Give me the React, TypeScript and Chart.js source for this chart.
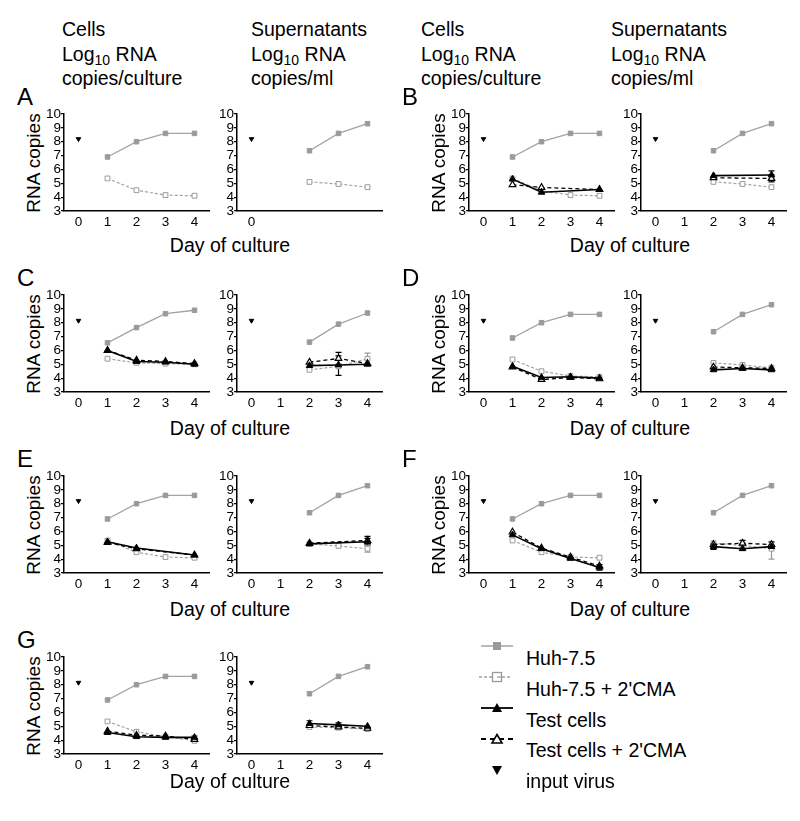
import React, { useEffect, useRef } from 'react';
import { Chart, registerables } from 'chart.js';

Chart.register(...registerables);

const FONT = '"Liberation Sans", Arial, Helvetica, sans-serif';

// ---------- data ----------
const panels = ['A', 'B', 'C', 'D', 'E', 'F', 'G'];
const cellDays = [1, 2, 3, 4];
const supDays = [2, 3, 4];
const inputDays = [0];
const xTicks = [0, 1, 2, 3, 4];
const xTickLabels = ['0', '1', '2', '3', '4'];
const xTickLabelsZeroOnly = ['0', '', '', '', ''];
const yTicks = [3, 4, 5, 6, 7, 8, 9, 10];

const legendLabels = ['Huh-7.5', "Huh-7.5 + 2'CMA", 'Test cells', "Test cells + 2'CMA", 'input virus'];

// input virus (day 0)
const cellsInput = [8.2, 8.2, 8.15, 8.15, 8.2, 8.2, 8.15];
const supInput = [8.2, 8.2, 8.15, 8.15, 8.2, 8.2, 8.15];

// Cells, days 1-4
const cellsHuh = [
  [6.9, 8.0, 8.6, 8.6],
  [6.9, 8.0, 8.6, 8.6],
  [6.55, 7.65, 8.65, 8.9],
  [6.9, 8.0, 8.6, 8.6],
  [6.9, 8.0, 8.6, 8.6],
  [6.9, 8.0, 8.6, 8.6],
  [6.9, 8.0, 8.6, 8.6],
];
const cellsHuhCMA = [
  [5.35, 4.5, 4.15, 4.1],
  [5.35, 4.45, 4.15, 4.1],
  [5.4, 5.1, 5.05, 5.0],
  [5.35, 4.5, 4.15, 4.1],
  [5.35, 4.5, 4.15, 4.1],
  [5.35, 4.5, 4.15, 4.1],
  [5.35, 4.6, 4.25, 3.95],
];
const cellsTest = [
  null,
  [5.3, 4.35, null, 4.55],
  [6.0, 5.2, 5.15, 5.0],
  [4.85, 4.05, 4.1, 4.0],
  [5.25, 4.8, null, 4.3],
  [5.75, 4.75, 4.05, 3.4],
  [4.55, 4.25, 4.2, 4.2],
];
const cellsTestCMA = [
  null,
  [4.9, 4.7, null, 4.55],
  [6.0, 5.3, 5.2, 5.05],
  [4.8, 3.9, 4.05, 3.95],
  [5.2, 4.75, null, 4.3],
  [5.95, 4.8, 4.15, 3.5],
  [4.65, 4.35, 4.3, 4.05],
];
const cellsTestErr = [
  null,
  null,
  null,
  null,
  null,
  [null, null, null, [3.2, 3.6]],
  [null, null, null, [4.0, 4.3]],
];

// Supernatants, days 2-4
const supHuh = [
  [7.35, 8.6, 9.3],
  [7.35, 8.6, 9.3],
  [6.6, 7.9, 8.7],
  [7.35, 8.6, 9.3],
  [7.35, 8.6, 9.3],
  [7.35, 8.6, 9.3],
  [7.35, 8.6, 9.3],
];
const supHuhCMA = [
  [5.1, 4.95, 4.72],
  [5.1, 4.95, 4.72],
  [4.6, 4.85, 5.4],
  [5.1, 4.95, 4.75],
  [5.1, 4.95, 4.75],
  [5.15, 5.0, 4.75],
  [4.95, 4.9, 4.8],
];
const supHuhCMAErr = [
  null,
  null,
  [null, null, [5.0, 5.8]],
  null,
  [null, null, [4.5, 5.0]],
  [null, null, [4.0, 5.0]],
  null,
];
const supTest = [
  null,
  [5.55, null, 5.6],
  [4.9, 4.95, 5.0],
  [4.6, 4.7, 4.6],
  [5.1, null, 5.25],
  [4.9, 4.75, 4.9],
  [5.2, 5.1, 5.0],
];
const supTestErr = [
  null,
  [null, null, [5.3, 5.9]],
  [null, [4.2, 5.6], null],
  [null, [4.6, 4.8], null],
  [null, null, [5.0, 5.5]],
  [[4.7, 5.1], null, null],
  [[5.0, 5.4], [4.9, 5.25], null],
];
const supTestCMA = [
  null,
  [5.4, null, 5.35],
  [5.15, 5.42, 5.05],
  [4.8, 4.75, 4.7],
  [5.15, null, 5.35],
  [5.05, 5.15, 5.05],
  [5.05, 4.95, 4.85],
];
const supTestCMAErr = [
  null,
  [null, null, [5.1, 5.6]],
  [null, [5.0, 5.86], null],
  null,
  [null, null, [5.1, 5.65]],
  [null, [4.95, 5.35], [4.8, 5.25]],
  null,
];

// ---------- layout constants ----------
const W = 145;
const H = 97;
const YW = 30;
const PT = 10;
const PR = 6;
const XH = 22;
const cellsLeft = [64, 469];
const supLeft = [237, 641];
const rowTop = [114, 295, 476, 657];
const dayTitleY = [245, 428, 609, 781];
const headerLeft = [[62, 251], [421, 611]];

const GRAY_LINE = '#a3a3a3';
const GRAY_FILL = '#9a9a9a';

function pts(days: number[], vals: (number | null)[] | null) {
  if (!vals) return [];
  return days.map((d, i) => ({ x: d, y: vals[i] }));
}

function makeDatasets(
  days: number[],
  huh: (number | null)[],
  huhCMA: (number | null)[],
  test: (number | null)[] | null,
  testCMA: (number | null)[] | null,
  input: number,
  huhCMAErr: any,
  testErr: any,
  testCMAErr: any
) {
  const ds: any[] = [];
  if (test) {
    ds.push({
      data: pts(days, test),
      borderColor: '#000',
      borderWidth: 1.6,
      pointStyle: 'triangle',
      pointRadius: 3.8,
      pointBackgroundColor: '#000',
      pointBorderColor: '#000',
      pointBorderWidth: 1,
      errors: testErr,
      spanGaps: true,
    });
  }
  if (testCMA) {
    ds.push({
      data: pts(days, testCMA),
      borderColor: '#000',
      borderWidth: 1.3,
      borderDash: [4, 3],
      pointStyle: 'triangle',
      pointRadius: 3.8,
      pointBackgroundColor: '#fff',
      pointBorderColor: '#000',
      pointBorderWidth: 1.2,
      errors: testCMAErr,
      spanGaps: true,
    });
  }
  ds.push({
    data: pts(days, huh),
    borderColor: GRAY_LINE,
    borderWidth: 1.3,
    pointStyle: 'rect',
    pointRadius: 3.2,
    pointBackgroundColor: GRAY_FILL,
    pointBorderColor: GRAY_FILL,
    pointBorderWidth: 1,
    spanGaps: true,
  });
  ds.push({
    data: pts(days, huhCMA),
    borderColor: GRAY_LINE,
    borderWidth: 1.2,
    borderDash: [3, 2],
    pointStyle: 'rect',
    pointRadius: 3.4,
    pointBackgroundColor: '#fff',
    pointBorderColor: GRAY_FILL,
    pointBorderWidth: 1,
    errors: huhCMAErr,
    spanGaps: true,
  });
  ds.push({
    data: pts(inputDays, [input]),
    showLine: false,
    borderColor: '#000',
    pointStyle: 'triangle',
    pointRotation: 180,
    pointRadius: 2.6,
    pointBackgroundColor: '#000',
    pointBorderColor: '#000',
    pointBorderWidth: 1,
  });
  return ds;
}

const errorBarPlugin = {
  id: 'errorBars',
  beforeDatasetsDraw(chart: any) {
    const { ctx, scales } = chart;
    const x = scales.x;
    const y = scales.y;
    chart.data.datasets.forEach((ds: any) => {
      const errs = ds.errors;
      if (!errs) return;
      ds.data.forEach((p: any, j: number) => {
        const e = errs[j];
        if (!e || p.y == null) return;
        const px = x.getPixelForValue(p.x);
        const lo = y.getPixelForValue(e[0]);
        const hi = y.getPixelForValue(e[1]);
        ctx.save();
        ctx.strokeStyle = ds.pointBorderColor || ds.borderColor;
        ctx.lineWidth = 1.2;
        ctx.beginPath();
        ctx.moveTo(px, lo);
        ctx.lineTo(px, hi);
        ctx.moveTo(px - 3, lo);
        ctx.lineTo(px + 3, lo);
        ctx.moveTo(px - 3, hi);
        ctx.lineTo(px + 3, hi);
        ctx.stroke();
        ctx.restore();
      });
    });
  },
};

function MiniChart({ left, top, datasets, labels }: { left: number; top: number; datasets: any[]; labels: string[] }) {
  const ref = useRef<HTMLCanvasElement | null>(null);
  useEffect(() => {
    if (!ref.current) return;
    const font = { family: FONT, size: 13.5 };
    const chart = new Chart(ref.current, {
      type: 'line',
      data: { datasets },
      plugins: [errorBarPlugin],
      options: {
        animation: false,
        responsive: false,
        maintainAspectRatio: false,
        layout: { padding: { top: PT, right: PR, left: 0, bottom: 0 } },
        plugins: { legend: { display: false }, tooltip: { enabled: false } },
        elements: { line: { tension: 0 } },
        scales: {
          x: {
            type: 'linear',
            min: -0.5,
            max: 4.5,
            afterBuildTicks: (a: any) => {
              a.ticks = xTicks.map((v) => ({ value: v }));
            },
            afterFit: (s: any) => {
              s.height = XH;
            },
            grid: { display: true, drawOnChartArea: false, drawTicks: false, color: '#000' },
            border: { display: true, color: '#000', width: 1.5 },
            ticks: {
              padding: 3,
              color: '#000',
              font,
              maxRotation: 0,
              autoSkip: false,
              callback: (v: any) => {
                const i = xTicks.indexOf(Number(v));
                return i >= 0 ? labels[i] : '';
              },
            },
          },
          y: {
            type: 'linear',
            min: 3,
            max: 10,
            afterBuildTicks: (a: any) => {
              a.ticks = yTicks.map((v) => ({ value: v }));
            },
            afterFit: (s: any) => {
              s.width = YW;
            },
            grid: { display: true, drawOnChartArea: false, drawTicks: true, tickLength: 3, color: '#000', lineWidth: 1.2 },
            border: { display: true, color: '#000', width: 1.5 },
            ticks: { padding: 0, color: '#000', font, autoSkip: false },
          },
        },
      } as any,
    });
    return () => chart.destroy();
  }, []);
  const cw = W + YW + PR;
  const ch = H + PT + XH;
  return (
    <canvas
      ref={ref}
      width={cw}
      height={ch}
      style={{ position: 'absolute', left: left - YW, top: top - PT, width: cw, height: ch }}
    />
  );
}

function Header({ left, title, unit }: { left: number; title: string; unit: string }) {
  return (
    <div
      style={{
        position: 'absolute',
        left,
        top: 17,
        fontFamily: FONT,
        fontSize: 19.5,
        lineHeight: '24.5px',
        color: '#000',
        whiteSpace: 'nowrap',
      }}
    >
      <div>{title}</div>
      <div>
        Log<sub style={{ fontSize: 14, verticalAlign: '-4px', lineHeight: 0 }}>10</sub> RNA
      </div>
      <div>{unit}</div>
    </div>
  );
}

function LegendIcon({ kind }: { kind: number }) {
  const gray = GRAY_FILL;
  return (
    <svg width={36} height={14} style={{ position: 'absolute', left: 0, top: 0 }}>
      {kind === 0 && (
        <>
          <line x1={2} y1={7} x2={34} y2={7} stroke={GRAY_LINE} strokeWidth={1.5} />
          <rect x={14} y={3} width={8} height={8} fill={gray} />
        </>
      )}
      {kind === 1 && (
        <>
          <line x1={0} y1={7} x2={13} y2={7} stroke={GRAY_LINE} strokeWidth={1.5} strokeDasharray="3 2" />
          <line x1={23} y1={7} x2={32} y2={7} stroke={GRAY_LINE} strokeWidth={1.5} strokeDasharray="3 2" />
          <rect x={13.5} y={2.5} width={9} height={9} fill="#fff" stroke={gray} strokeWidth={1.3} />
          <line x1={18} y1={7} x2={22.5} y2={7} stroke={gray} strokeWidth={1.2} />
        </>
      )}
      {kind === 2 && (
        <>
          <line x1={2} y1={7} x2={34} y2={7} stroke="#000" strokeWidth={1.8} />
          <polygon points="18,2 23,11 13,11" fill="#000" />
        </>
      )}
      {kind === 3 && (
        <>
          <line x1={2} y1={7} x2={34} y2={7} stroke="#000" strokeWidth={1.8} strokeDasharray="5 4" />
          <polygon points="18,2.5 23,11 13,11" fill="#fff" stroke="#000" strokeWidth={1.6} />
        </>
      )}
      {kind === 4 && <polygon points="13,3 23,3 18,12" fill="#000" />}
    </svg>
  );
}

export default function App() {
  return (
    <div style={{ position: 'absolute', left: 0, top: 0, width: 800, height: 821, background: '#fff', overflow: 'hidden' }}>
      {[0, 1].map((c) => (
        <React.Fragment key={'h' + c}>
          <Header left={headerLeft[c][0]} title="Cells" unit="copies/culture" />
          <Header left={headerLeft[c][1]} title="Supernatants" unit="copies/ml" />
        </React.Fragment>
      ))}
      {panels.map((p, i) => {
        const col = i % 2;
        const row = Math.floor(i / 2);
        const top = rowTop[row];
        const cellsDs = makeDatasets(
          cellDays,
          cellsHuh[i],
          cellsHuhCMA[i],
          cellsTest[i],
          cellsTestCMA[i],
          cellsInput[i],
          null,
          cellsTestErr[i],
          null
        );
        const supDs = makeDatasets(
          supDays,
          supHuh[i],
          supHuhCMA[i],
          supTest[i],
          supTestCMA[i],
          supInput[i],
          supHuhCMAErr[i],
          supTestErr[i],
          supTestCMAErr[i]
        );
        return (
          <React.Fragment key={p}>
            <div
              style={{
                position: 'absolute',
                left: col === 0 ? 17 : 402,
                top: top - 30,
                fontFamily: FONT,
                fontSize: 24,
                lineHeight: '26px',
                color: '#000',
              }}
            >
              {p}
            </div>
            <div
              style={{
                position: 'absolute',
                left: cellsLeft[col] - 30 - 60,
                top: top + H / 2 - 11,
                width: 120,
                height: 22,
                textAlign: 'center',
                transform: 'rotate(-90deg)',
                fontFamily: FONT,
                fontSize: 19,
                lineHeight: '22px',
                color: '#000',
                whiteSpace: 'nowrap',
              }}
            >
              RNA copies
            </div>
            <MiniChart left={cellsLeft[col]} top={top} datasets={cellsDs} labels={xTickLabels} />
            <MiniChart left={supLeft[col]} top={top} datasets={supDs} labels={i === 0 ? xTickLabelsZeroOnly : xTickLabels} />
            <div
              style={{
                position: 'absolute',
                left: (col === 0 ? 230 : 630) - 100,
                top: dayTitleY[row] - 12,
                width: 200,
                textAlign: 'center',
                fontFamily: FONT,
                fontSize: 19.5,
                lineHeight: '24px',
                color: '#000',
              }}
            >
              Day of culture
            </div>
          </React.Fragment>
        );
      })}
      {legendLabels.map((lab, k) => (
        <React.Fragment key={lab}>
          <div style={{ position: 'absolute', left: 479, top: 639 + k * 31 }}>
            <LegendIcon kind={k} />
          </div>
          <div
            style={{
              position: 'absolute',
              left: 526,
              top: 646 + k * 30.8,
              fontFamily: FONT,
              fontSize: 19.5,
              lineHeight: '24px',
              color: '#000',
              whiteSpace: 'nowrap',
            }}
          >
            {lab}
          </div>
        </React.Fragment>
      ))}
    </div>
  );
}
